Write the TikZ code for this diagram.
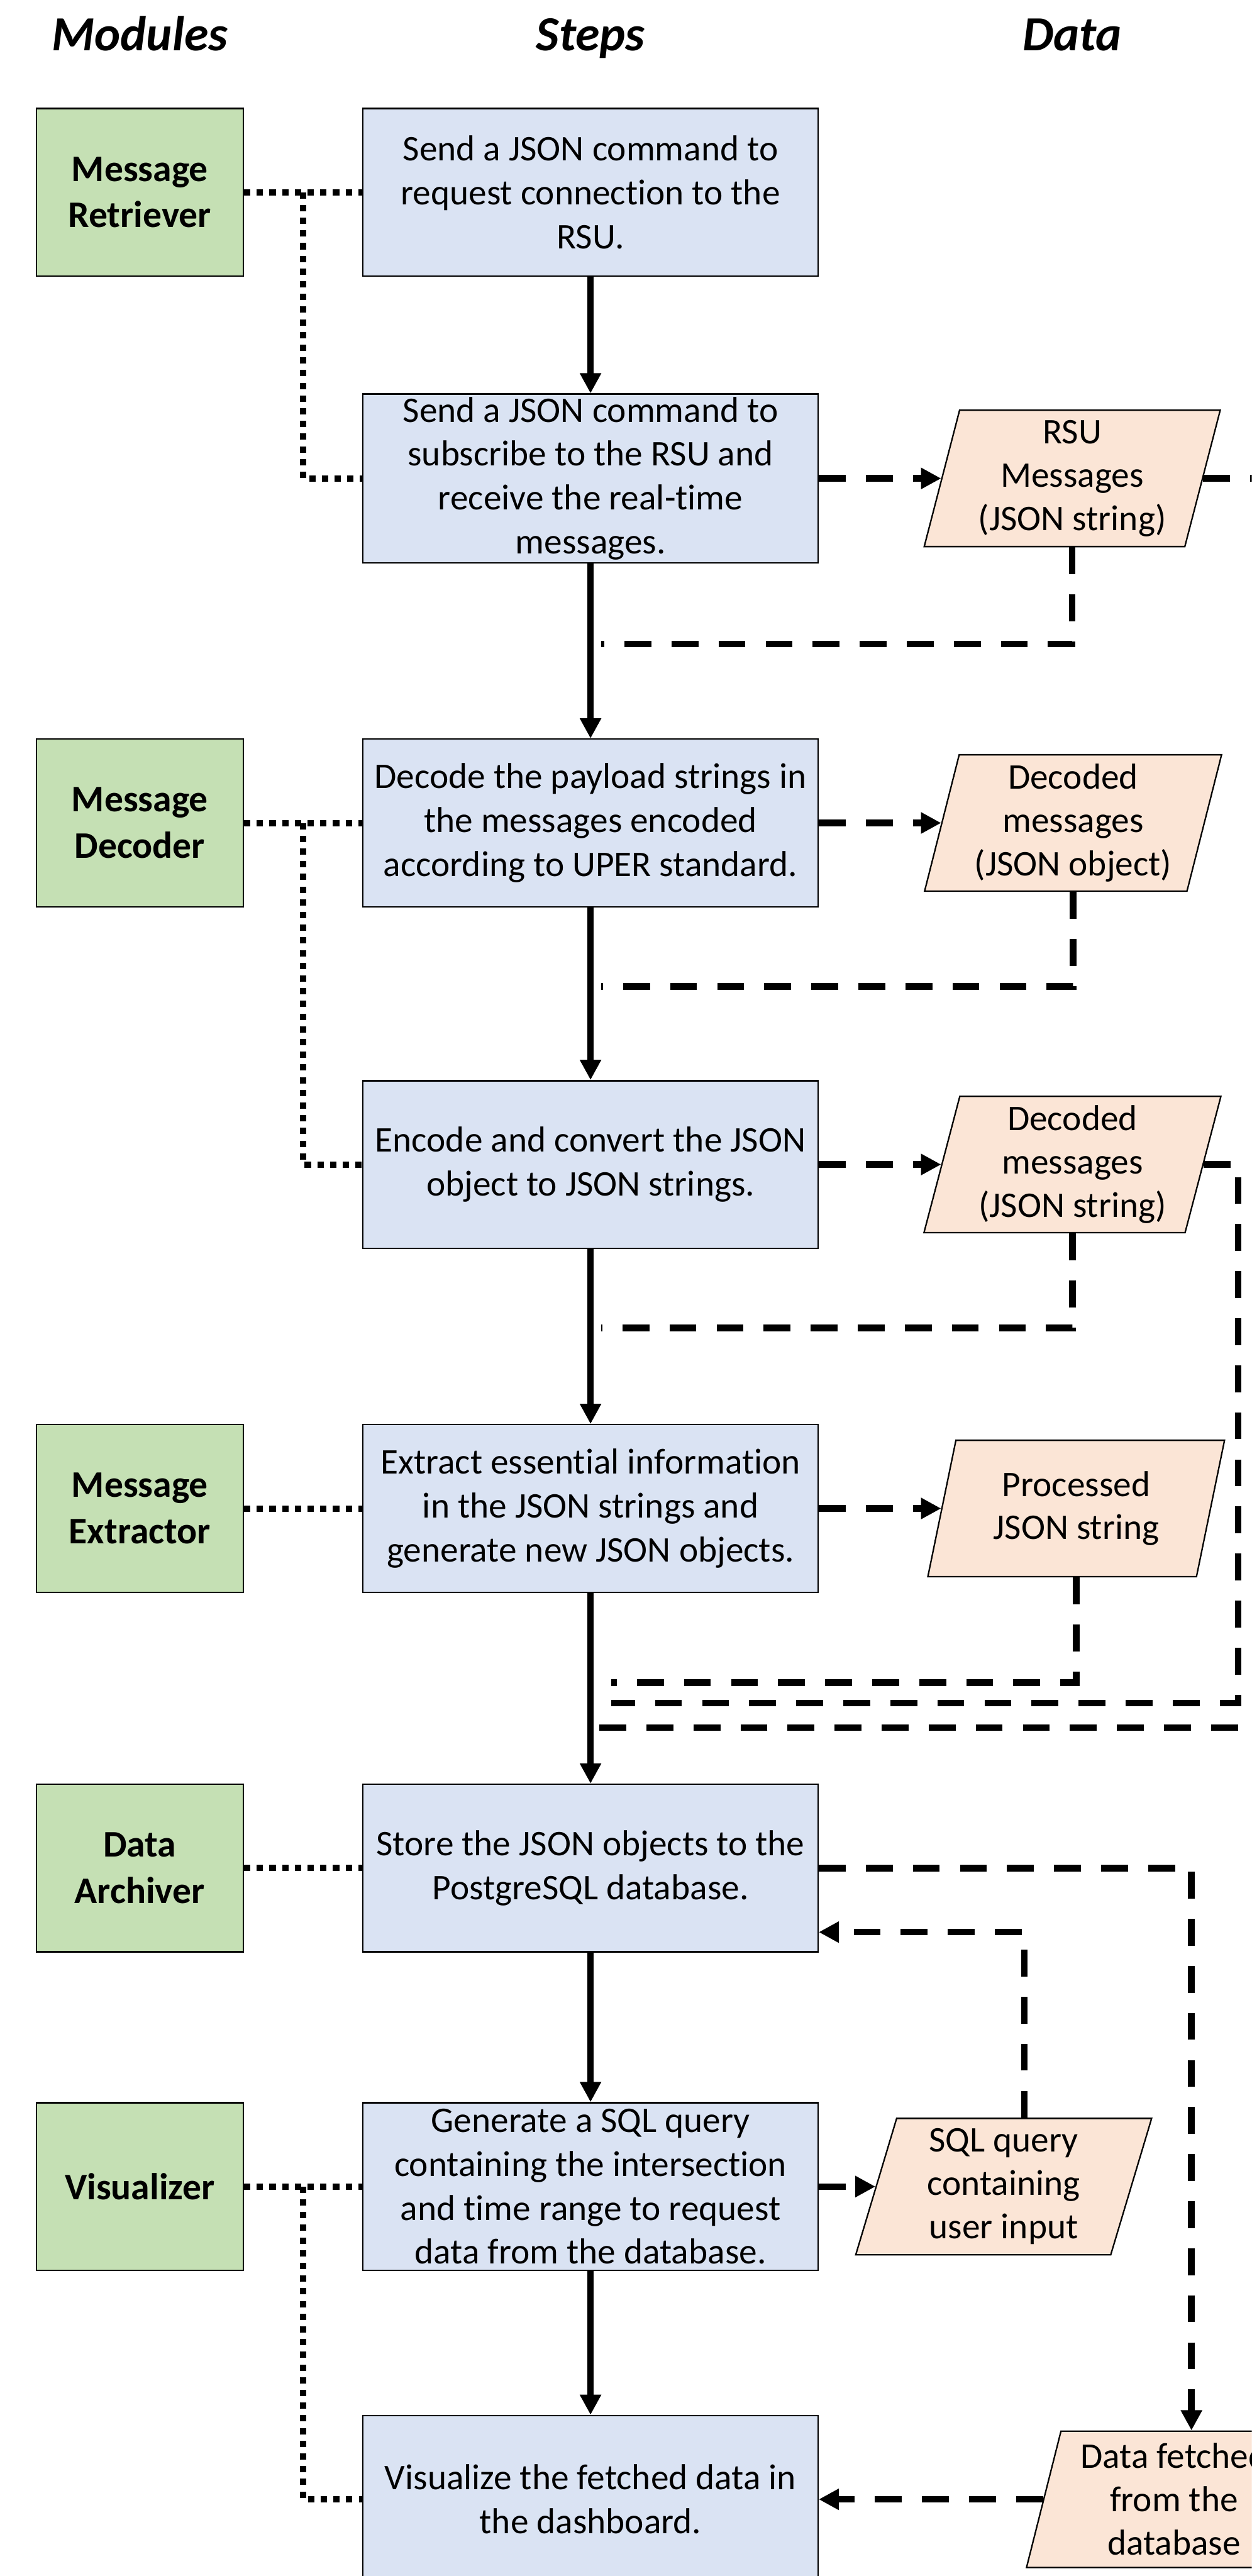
\documentclass[tikz,border=0pt]{standalone}
\usepackage{fontspec}
\setmainfont{Carlito}[Ligatures=NoCommon]
\usetikzlibrary{shapes.geometric,arrows.meta,positioning,calc}
\definecolor{modgreen}{HTML}{C5E0B4}
\definecolor{stepblue}{HTML}{DAE3F3}
\definecolor{datapeach}{HTML}{FBE5D6}
\tikzset{
  % Module box: bold name, green fill
  modbox/.style={draw, rectangle, fill=modgreen, minimum width=25.2mm, minimum height=20.4mm,
                 align=center, line width=0.5pt, inner sep=1pt,
                 font=\fontsize{13}{16}\selectfont\bfseries},
  % Step box: one processing step, blue fill
  stepbox/.style={draw, rectangle, fill=stepblue, minimum width=55.4mm, minimum height=20.4mm,
                  align=center, line width=0.5pt, inner sep=1pt,
                  font=\fontsize{12.5}{15.2}\selectfont},
  % Data item: slanted box, peach fill
  databox/.style={draw, trapezium, trapezium left angle=76, trapezium right angle=104,
                  trapezium stretches=true, fill=datapeach, minimum width=36.2mm,
                  minimum height=16.6mm, align=center, line width=0.5pt, inner sep=1pt,
                  font=\fontsize{12.5}{15}\selectfont},
  % Column heading
  colhead/.style={font=\fontsize{17}{20}\selectfont\bfseries\itshape, inner sep=0pt},
  % Arrows
  flowarr/.style={-{Triangle[length=7pt,width=7pt]}, line width=2.3pt},
  dataarr/.style={flowarr, dash pattern=on 9.3pt off 7pt},
  dataline/.style={line width=2.3pt, dash pattern=on 9.3pt off 7pt},
  modlink/.style={line width=2.2pt, dash pattern=on 2.2pt off 2.2pt}
}

\begin{document}
\begin{tikzpicture}

\useasboundingbox (-71.9mm,23.4mm) rectangle (80.5mm,-290.2mm);
\clip (-71.9mm,23.4mm) rectangle (80.5mm,-290.2mm);

% ============== STEPS COLUMN ==============
\node[stepbox] (s1) at (0,0) {Send a JSON command to\\request connection to the\\RSU.};
\node[stepbox, below=14.2mm of s1] (s2)
  {Send a JSON command to\\subscribe to the RSU and\\receive the real-time\\messages.};
\node[stepbox, below=21.3mm of s2] (s3)
  {Decode the payload strings in\\the messages encoded\\according to UPER standard.};
\node[stepbox, below=21.0mm of s3] (s4) {Encode and convert the JSON\\object to JSON strings.};
\node[stepbox, below=21.3mm of s4] (s5)
  {Extract essential information\\in the JSON strings and\\generate new JSON objects.};
\node[stepbox, below=23.2mm of s5] (s6) {Store the JSON objects to the\\PostgreSQL database.};
\node[stepbox, below=18.2mm of s6] (s7)
  {Generate a SQL query\\containing the intersection\\and time range to request\\data from the database.};
\node[stepbox, below=17.5mm of s7] (s8) {Visualize the fetched data in\\the dashboard.};

% ============== MODULES COLUMN ==============
\node[modbox, left=14.4mm of s1] (ret) {Message\\Retriever};
\node[modbox, left=14.4mm of s3] (dec) {Message\\Decoder};
\node[modbox, left=14.4mm of s5] (ext) {Message\\Extractor};
\node[modbox, left=14.4mm of s6] (arc) {Data\\Archiver};
\node[modbox, left=14.4mm of s7] (vis) {Visualizer};

% ============== DATA COLUMN ==============
\node[databox, right=14.9mm of s2] (d1) {RSU\\Messages\\(JSON string)};
\node[databox, right=14.9mm of s3] (d2) {Decoded\\messages\\(JSON object)};
\node[databox, right=14.9mm of s4] (d3) {Decoded\\messages\\(JSON string)};
\node[databox, right=14.9mm of s5] (d4) {Processed\\JSON string};
\node[databox, right=6.9mm of s7] (d5) {SQL query\\containing\\user input};
\node[databox, right=27.3mm of s8] (d6) {Data fetched\\from the\\database};

% column headings
\node[colhead, anchor=base] (hmod) at (ret |- 0,17.2mm) {Modules};
\node[colhead, anchor=base] (hstep) at (s1 |- 0,17.2mm) {Steps};
\node[colhead, anchor=base] (hdata) at (d1 |- 0,17.2mm) {Data};

% ============== MAIN FLOW ==============
\draw[flowarr] (s1.south) -- (s2.north);
\draw[flowarr] (s2.south) -- (s3.north);
\draw[flowarr] (s3.south) -- (s4.north);
\draw[flowarr] (s4.south) -- (s5.north);
\draw[flowarr] (s5.south) -- (s6.north);
\draw[flowarr] (s6.south) -- (s7.north);
\draw[flowarr] (s7.south) -- (s8.north);

% ============== MODULE LINKS ==============
\draw[modlink] (ret.east) -- (s1.west);
\draw[modlink] ([xshift=7.2mm]ret.east) |- (s2.west);
\draw[modlink] (dec.east) -- (s3.west);
\draw[modlink] ([xshift=7.2mm]dec.east) |- (s4.west);
\draw[modlink] (ext.east) -- (s5.west);
\draw[modlink] (arc.east) -- (s6.west);
\draw[modlink] (vis.east) -- (s7.west);
\draw[modlink] ([xshift=7.2mm]vis.east) |- (s8.west);

% ============== DATA LINKS ==============
\draw[dataarr] (s2.east) -- (d1.west);
\draw[dataline] (d1.south) |- ($(s2.south)+(1.3mm,-9.8mm)$);
\draw[dataline] (d1.east) -- ++(12mm,0) |- ($(s5.south)+(0,-16.4mm)$);
\draw[dataarr] (s3.east) -- (d2.west);
\draw[dataline] (d2.south) |- ($(s3.south)+(1.3mm,-9.6mm)$);
\draw[dataarr] (s4.east) -- (d3.west);
\draw[dataline] (d3.south) |- ($(s4.south)+(1.3mm,-9.6mm)$);
\draw[dataline] (d3.east) -- ++(4.2mm,0) |- ($(s5.south)+(2.5mm,-13.4mm)$);
\draw[dataarr] (s5.east) -- (d4.west);
\draw[dataline] (d4.south) |- ($(s5.south)+(2.5mm,-10.9mm)$);

% database round trip
\draw[dataarr] (s6.east) -| (d6.top side);
\draw[dataarr] (s7.east) -- (d5.west);
\draw[dataarr] (d5.top side) |- ($(s6.east)+(0,-7.8mm)$);
\draw[dataarr] (d6.west) -- (s8.east);

\end{tikzpicture}
\end{document}
